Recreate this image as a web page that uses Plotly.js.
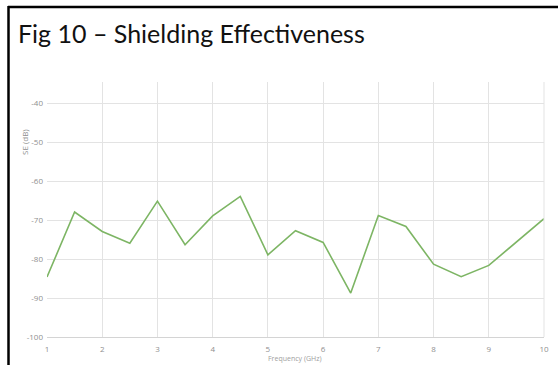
<!DOCTYPE html>
<html>
<head>
<meta charset="utf-8">
<script src="https://cdn.plot.ly/plotly-3.0.1.min.js"></script>
<style>
  html, body { margin: 0; padding: 0; background: #ffffff; }
  #chart { width: 558px; height: 365px; }
</style>
</head>
<body>
<div id="chart"></div>
<script>
// Frequency sweep (GHz) and measured shielding effectiveness (dB)
const frequencyGHz = [1, 1.5, 2, 2.5, 3, 3.5, 4, 4.5, 5, 5.5, 6, 6.5, 7, 7.5, 8, 8.5, 9, 9.5, 10];
const shieldingDb  = [-84.6, -67.9, -72.9, -75.9, -65.1, -76.3, -68.9, -63.9, -78.9, -72.7, -75.7, -88.7, -68.8, -71.6, -81.3, -84.5, -81.6, -75.7, -69.6];

const xTickValues = [1, 2, 3, 4, 5, 6, 7, 8, 9, 10];
const xTickLabels = ['1', '2', '3', '4', '5', '6', '7', '8', '9', '10'];
const yTickValues = [-100, -90, -80, -70, -60, -50, -40];
const yTickLabels = ['-100', '-90', '-80', '-70', '-60', '-50', '-40'];

const W = 558, H = 365;
const M = { l: 47, r: 14, t: 82, b: 28 };
const plotW = W - M.l - M.r, plotH = H - M.t - M.b;
// pixel -> paper coordinate helpers for the frame and free labels
const px = v => (v - M.l) / plotW;
const py = v => (H - M.b - v) / plotH;

const tickFont = { family: 'Open Sans, sans-serif', size: 8, color: '#8f8f8f' };

const trace = {
  x: frequencyGHz,
  y: shieldingDb,
  type: 'scatter',
  mode: 'lines',
  line: { color: '#7db564', width: 1.6 },
  hoverinfo: 'skip'
};

const layout = {
  width: W,
  height: H,
  margin: M,
  paper_bgcolor: '#ffffff',
  plot_bgcolor: '#ffffff',
  showlegend: false,
  xaxis: {
    range: [1, 10],
    tickvals: xTickValues,
    ticktext: xTickLabels,
    tickfont: tickFont,
    showgrid: true,
    gridcolor: '#e3e3e3',
    gridwidth: 1,
    zeroline: false,
    showline: true,
    linecolor: '#d4d4d4',
    linewidth: 1,
    ticks: '',
    ticklabelstandoff: 4
  },
  yaxis: {
    range: [-100, -34.5],
    tickvals: yTickValues,
    ticktext: yTickLabels,
    tickfont: tickFont,
    showgrid: true,
    gridcolor: '#e3e3e3',
    gridwidth: 1,
    zeroline: false,
    showline: false,
    ticks: '',
    ticklabelstandoff: 3
  },
  annotations: [
    {
      text: 'Fig 10 \u2013 Shielding Effectiveness',
      xref: 'paper', yref: 'paper',
      x: px(16), y: py(33),
      xanchor: 'left', yanchor: 'middle',
      showarrow: false,
      font: { family: 'Lato, Carlito, sans-serif', size: 25, color: '#111111' }
    },
    {
      text: 'SE (dB)',
      xref: 'paper', yref: 'paper',
      x: px(24), y: py(142),
      xanchor: 'center', yanchor: 'middle',
      textangle: -90,
      showarrow: false,
      font: { family: 'Open Sans, sans-serif', size: 8, color: '#8f8f8f' }
    },
    {
      text: 'Frequency (GHz)',
      xref: 'paper', yref: 'paper',
      x: px(295), y: py(365),
      xanchor: 'center', yanchor: 'bottom',
      showarrow: false,
      font: { family: 'Open Sans, sans-serif', size: 7, color: '#a0a0a0' }
    }
  ],
  shapes: [
    // slide frame: top and left edges
    {
      type: 'line', xref: 'paper', yref: 'paper',
      x0: px(8), x1: px(W + 2), y0: py(7), y1: py(7),
      line: { color: '#000000', width: 2.5 }
    },
    {
      type: 'line', xref: 'paper', yref: 'paper',
      x0: px(8.5), x1: px(8.5), y0: py(6), y1: py(H + 2),
      line: { color: '#000000', width: 2.5 }
    },
    // right edge of the plot area
    {
      type: 'line', xref: 'paper', yref: 'paper',
      x0: 1, x1: 1, y0: 0, y1: 1,
      line: { color: '#e3e3e3', width: 1 }
    }
  ]
};

Plotly.newPlot('chart', [trace], layout, { staticPlot: true, displayModeBar: false });
</script>
</body>
</html>
